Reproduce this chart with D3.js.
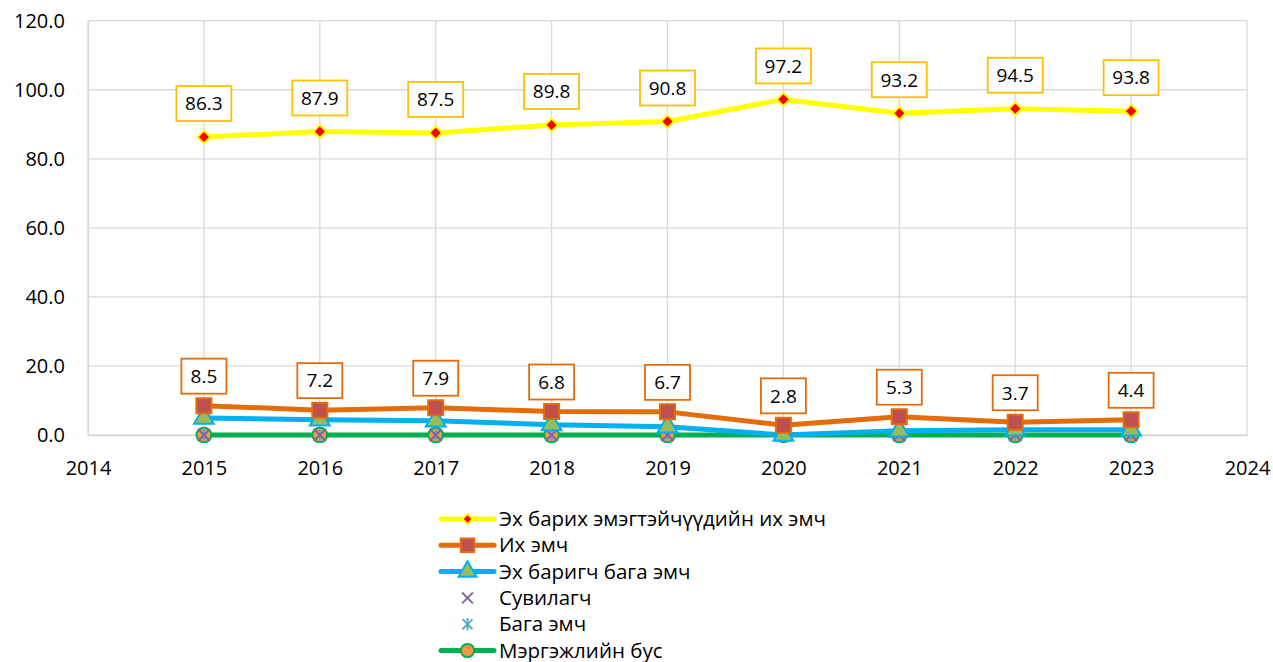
<!DOCTYPE html>
<html>
<head>
<meta charset="utf-8">
<script src="https://cdn.jsdelivr.net/npm/d3@7"></script>
<style>
  html, body { margin: 0; padding: 0; background: #fff; }
  svg { display: block; font-family: "Open Sans", "Noto Sans", sans-serif; }
</style>
</head>
<body>
<svg id="chart" width="1273" height="662"></svg>
<script>
// Years on the x axis
const years = [2015, 2016, 2017, 2018, 2019, 2020, 2021, 2022, 2023];
const xTicks = [2014, 2015, 2016, 2017, 2018, 2019, 2020, 2021, 2022, 2023, 2024];
const yTicks = [0, 20, 40, 60, 80, 100, 120];

// Series values (percent)
const obstetricianValues = [86.3, 87.9, 87.5, 89.8, 90.8, 97.2, 93.2, 94.5, 93.8];
const doctorValues       = [8.5, 7.2, 7.9, 6.8, 6.7, 2.8, 5.3, 3.7, 4.4];
const midwifeValues      = [4.9, 4.4, 4.1, 3.0, 2.4, 0.0, 1.2, 1.5, 1.5];
const nurseValues        = [0, 0, 0, 0, 0, 0, 0, 0, 0];
const assistantValues    = [0, 0, 0, 0, 0, 0, 0, 0, 0];
const unskilledValues    = [0, 0, 0, 0, 0, 0, 0, 0, 0];

const seriesNames = [
  "Эх барих эмэгтэйчүүдийн их эмч",
  "Их эмч",
  "Эх баригч бага эмч",
  "Сувилагч",
  "Бага эмч",
  "Мэргэжлийн бус"
];

const svg = d3.select("#chart");
const plotLeft = 88, plotRight = 1247, plotTop = 20.7, plotBottom = 435;

const x = d3.scaleLinear().domain([2014, 2024]).range([plotLeft, plotRight]);
const y = d3.scaleLinear().domain([0, 120]).range([plotBottom, plotTop]);

// Gridlines
const grid = svg.append("g");
grid.selectAll("line.h").data(yTicks).join("line")
  .attr("x1", plotLeft).attr("x2", plotRight)
  .attr("y1", d => y(d)).attr("y2", d => y(d))
  .attr("stroke", "#d9d9d9").attr("stroke-width", 1.3);
grid.selectAll("line.v").data(xTicks).join("line")
  .attr("x1", d => x(d)).attr("x2", d => x(d))
  .attr("y1", plotTop).attr("y2", plotBottom)
  .attr("stroke", "#d9d9d9").attr("stroke-width", 1.3);

// Axes
const yAxis = svg.append("g").attr("transform", `translate(${plotLeft},0)`)
  .call(d3.axisLeft(y).tickValues(yTicks).tickFormat(d3.format(".1f")).tickSize(0).tickPadding(23));
const xAxis = svg.append("g").attr("transform", `translate(0,${plotBottom})`)
  .call(d3.axisBottom(x).tickValues(xTicks).tickFormat(d3.format("d")).tickSize(0).tickPadding(26));
[yAxis, xAxis].forEach(a => {
  a.select(".domain").attr("stroke", "#d9d9d9").attr("stroke-width", 1.3);
  a.selectAll("text").attr("font-size", 20).attr("fill", "#000")
    .attr("font-family", "'Open Sans', 'Noto Sans', sans-serif");
});

const line = d3.line().x(d => x(d[0])).y(d => y(d[1]));
const zip = vals => years.map((yr, i) => [yr, vals[i]]);

const styles = [
  { vals: obstetricianValues, line: "#ffff00", marker: "diamond", fill: "#ff0000", stroke: "#ffff00", size: 6.5 },
  { vals: doctorValues, line: "#e46c0a", marker: "square", fill: "#c0504d", stroke: "#e46c0a", size: 225 },
  { vals: midwifeValues, line: "#00b0f0", marker: "triangle", fill: "#9bbb59", stroke: "#00b0f0", size: 170 },
  { vals: nurseValues, line: null, marker: "cross", fill: "none", stroke: "#8064a2", size: 0 },
  { vals: assistantValues, line: null, marker: "star", fill: "none", stroke: "#4bacc6", size: 0 },
  { vals: unskilledValues, line: "#00b050", marker: "circle", fill: "#f79646", stroke: "#00b050", size: 170 }
];

function drawMarker(g, s, cx, cy, scale) {
  const k = scale || 1;
  if (s.marker === "cross") {
    const r = 6 * k;
    g.append("path").attr("d", `M${cx - r},${cy - r}L${cx + r},${cy + r}M${cx - r},${cy + r}L${cx + r},${cy - r}`)
      .attr("stroke", s.stroke).attr("stroke-width", 1.8).attr("fill", "none");
  } else if (s.marker === "star") {
    const r = 7 * k;
    g.append("path").attr("d",
      `M${cx - r * 0.8},${cy - r * 0.8}L${cx + r * 0.8},${cy + r * 0.8}M${cx - r * 0.8},${cy + r * 0.8}L${cx + r * 0.8},${cy - r * 0.8}M${cx},${cy - r}L${cx},${cy + r}`)
      .attr("stroke", s.stroke).attr("stroke-width", 1.8).attr("fill", "none");
  } else if (s.marker === "diamond") {
    const r = s.size * k;
    g.append("path").attr("d", `M${cx},${cy - r}L${cx + r},${cy}L${cx},${cy + r}L${cx - r},${cy}Z`)
      .attr("fill", s.fill).attr("stroke", s.stroke).attr("stroke-width", 2);
  } else {
    const typeMap = { square: d3.symbolSquare, triangle: d3.symbolTriangle, circle: d3.symbolCircle };
    g.append("path")
      .attr("d", d3.symbol().type(typeMap[s.marker]).size(s.size * k * k)())
      .attr("transform", `translate(${cx},${cy})`)
      .attr("fill", s.fill).attr("stroke", s.stroke).attr("stroke-width", 2);
  }
}

// Draw series from back to front
const order = [5, 4, 3, 2, 1, 0];
order.forEach(i => {
  const s = styles[i];
  const g = svg.append("g");
  if (s.line) {
    g.append("path").datum(zip(s.vals)).attr("d", line)
      .attr("fill", "none").attr("stroke", s.line).attr("stroke-width", 5)
      .attr("stroke-linejoin", "round").attr("stroke-linecap", "round");
  }
  zip(s.vals).forEach(d => drawMarker(g, s, x(d[0]), y(d[1])));
});

// Value labels in boxes
function drawLabels(vals, border, gap) {
  const g = svg.append("g");
  vals.forEach((v, i) => {
    const cx = x(years[i]);
    const by = y(v) - gap;
    const txt = d3.format(".1f")(v);
    const w = txt.length === 4 ? 55 : 45, h = 35;
    g.append("rect").attr("x", cx - w / 2).attr("y", by - h).attr("width", w).attr("height", h)
      .attr("fill", "#fff").attr("stroke", border).attr("stroke-width", 1.8);
    g.append("text").attr("x", cx).attr("y", by - h / 2 + 6.8)
      .attr("text-anchor", "middle").attr("font-size", 19).attr("fill", "#000").text(txt);
  });
}
drawLabels(obstetricianValues, "#ffc000", 16);
drawLabels(doctorValues, "#e46c0a", 12);

// Legend
const legend = svg.append("g");
seriesNames.forEach((name, i) => {
  const s = styles[i];
  const ly = 519 + i * 26.3;
  const lx1 = 441, lx2 = 494, mid = 467.5;
  if (s.line) {
    legend.append("line").attr("x1", lx1).attr("x2", lx2).attr("y1", ly).attr("y2", ly)
      .attr("stroke", s.line).attr("stroke-width", 5).attr("stroke-linecap", "round");
  }
  drawMarker(legend, s, mid, ly, s.marker === "diamond" ? 0.8 : 0.9);
  legend.append("text").attr("x", 499).attr("y", ly + 7).attr("font-size", 20.5).attr("fill", "#000").text(name);
});
</script>
</body>
</html>
